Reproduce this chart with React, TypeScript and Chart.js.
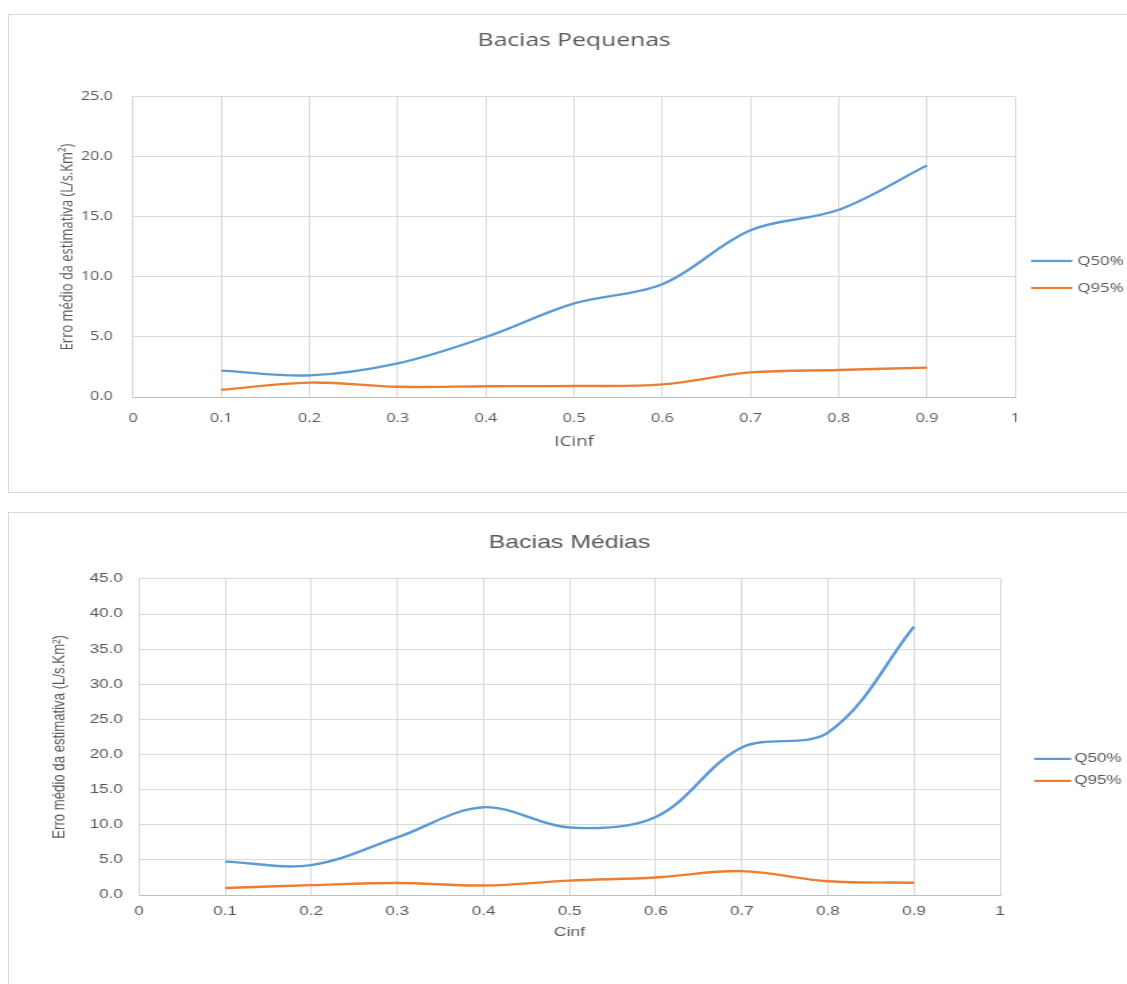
import React, { useEffect, useRef } from 'react';
import { Chart, registerables } from 'chart.js';

Chart.register(...registerables);

// Shared x positions (impermeability index) and tick labels
const xValues = [0.1, 0.2, 0.3, 0.4, 0.5, 0.6, 0.7, 0.8, 0.9];
const xTickLabels = ['0', '0.1', '0.2', '0.3', '0.4', '0.5', '0.6', '0.7', '0.8', '0.9', '1'];

const seriesNames = ['Q50%', 'Q95%'];
const seriesColors = ['#5B9BD5', '#ED7D31'];

// Bacias Pequenas
const pequenasQ50 = [2.2, 1.8, 2.8, 5.0, 7.8, 9.4, 13.9, 15.6, 19.3];
const pequenasQ95 = [0.6, 1.2, 0.85, 0.9, 0.92, 1.05, 2.05, 2.25, 2.45];
const pequenasYTicks = ['0.0', '5.0', '10.0', '15.0', '20.0', '25.0'];

// Bacias Médias
const mediasQ50 = [4.75, 4.25, 8.2, 12.5, 9.6, 11.1, 21.0, 23.1, 38.2];
const mediasQ95 = [1.0, 1.4, 1.7, 1.35, 2.05, 2.5, 3.4, 1.95, 1.75];
const mediasYTicks = ['0.0', '5.0', '10.0', '15.0', '20.0', '25.0', '30.0', '35.0', '40.0', '45.0'];

const yAxisTitle = 'Erro médio da estimativa (L/s.Km²)';
const TEXT = '#595959';
const GRID = '#d9d9d9';

// The drawing surface is rendered narrower and widened with CSS
const STRETCH = 1.35;
const DISPLAY_W = 1118;
const CANVAS_W = Math.round(DISPLAY_W / STRETCH);

const sideLegend = {
  id: 'sideLegend',
  afterDraw(chart: any, _args: any, opts: any) {
    const { ctx, chartArea } = chart;
    ctx.save();
    chart.data.datasets.forEach((ds: any, i: number) => {
      const y = chartArea.top + opts.top + i * opts.gap;
      ctx.strokeStyle = ds.borderColor;
      ctx.lineWidth = 2.2;
      ctx.beginPath();
      ctx.moveTo(chartArea.right + opts.lineStart, y);
      ctx.lineTo(chartArea.right + opts.lineEnd, y);
      ctx.stroke();
      ctx.fillStyle = TEXT;
      ctx.font = `${opts.fontSize}px ${opts.family}`;
      ctx.textBaseline = 'middle';
      ctx.textAlign = 'left';
      ctx.fillText(ds.label, chartArea.right + opts.textStart, y);
    });
    ctx.restore();
  },
};

type PanelSpec = {
  title: string;
  xTitle: string;
  q50: number[];
  q95: number[];
  yTicks: string[];
  yMax: number;
  yStep: number;
  family: string;
  height: number;
  titleSize: number;
  titlePad: { top: number; bottom: number };
  tickSize: number;
  yAxisWidth: number;
  yTickPad: number;
  yTitleSize: number;
  yTitlePad: number;
  xAxisHeight: number;
  xTickPad: number;
  xTitleSize: number;
  xTitlePad: number;
  padRight: number;
  legend: { top: number; gap: number; lineStart: number; lineEnd: number; textStart: number; fontSize: number };
};

function ChartPanel({ spec }: { spec: PanelSpec }) {
  const ref = useRef<HTMLCanvasElement | null>(null);

  useEffect(() => {
    if (!ref.current) return;
    const series = [spec.q50, spec.q95];
    const chart = new Chart(ref.current, {
      type: 'line',
      data: {
        datasets: series.map((vals, s) => ({
          label: seriesNames[s],
          data: xValues.map((x, i) => ({ x, y: vals[i] })),
          borderColor: seriesColors[s],
          backgroundColor: seriesColors[s],
          borderWidth: 2.4,
          pointRadius: 0,
          tension: 0.35,
          fill: false,
        })),
      },
      options: {
        responsive: false,
        animation: false,
        devicePixelRatio: 1,
        layout: { padding: { left: 0, right: spec.padRight, top: 0, bottom: 0 } },
        plugins: {
          legend: { display: false },
          tooltip: { enabled: false },
          title: {
            display: true,
            fullSize: false,
            text: spec.title,
            color: TEXT,
            font: { family: spec.family, size: spec.titleSize, weight: 'normal' },
            padding: spec.titlePad,
          },
          sideLegend: { ...spec.legend, family: spec.family },
        } as any,
        scales: {
          x: {
            type: 'linear',
            min: 0,
            max: 1,
            afterFit: (scale: any) => {
              scale.height = spec.xAxisHeight;
            },
            ticks: {
              stepSize: 0.1,
              autoSkip: false,
              maxRotation: 0,
              padding: spec.xTickPad,
              color: TEXT,
              font: { family: spec.family, size: spec.tickSize },
              callback: (_v: any, i: number) => xTickLabels[i],
            },
            grid: { color: GRID, drawTicks: false, lineWidth: 1 },
            border: { color: '#bfbfbf', width: 1 },
            title: {
              display: true,
              text: spec.xTitle,
              color: TEXT,
              font: { family: spec.family, size: spec.xTitleSize },
              padding: { top: 0, bottom: spec.xTitlePad },
            },
          },
          y: {
            min: 0,
            max: spec.yMax,
            afterFit: (scale: any) => {
              scale.width = spec.yAxisWidth;
            },
            ticks: {
              stepSize: spec.yStep,
              padding: spec.yTickPad,
              color: TEXT,
              font: { family: spec.family, size: spec.tickSize },
              callback: (_v: any, i: number) => spec.yTicks[i],
            },
            grid: { color: GRID, drawTicks: false, lineWidth: 1 },
            border: { color: GRID, width: 1 },
            title: {
              display: true,
              text: yAxisTitle,
              color: TEXT,
              font: { family: spec.family, size: spec.yTitleSize },
              padding: { top: spec.yTitlePad, bottom: 0 },
            },
          },
        },
      },
      plugins: [sideLegend],
    } as any);
    return () => chart.destroy();
  }, [spec]);

  return (
    <canvas
      ref={ref}
      width={CANVAS_W}
      height={spec.height}
      style={{ width: DISPLAY_W + 'px', height: spec.height + 'px', display: 'block' }}
    />
  );
}

const pequenasSpec: PanelSpec = {
  title: 'Bacias Pequenas',
  xTitle: 'ICinf',
  q50: pequenasQ50,
  q95: pequenasQ95,
  yTicks: pequenasYTicks,
  yMax: 25,
  yStep: 5,
  family: '"Open Sans", "Noto Sans", sans-serif',
  height: 476,
  titleSize: 18.3,
  titlePad: { top: 15.3, bottom: 44.7 },
  tickSize: 12,
  yAxisWidth: 91.9,
  yTickPad: 15,
  yTitleSize: 12.9,
  yTitlePad: 35.3,
  xAxisHeight: 94,
  xTickPad: 14.5,
  xTitleSize: 14,
  xTitlePad: 40.8,
  padRight: CANVAS_W - 745.2,
  legend: { top: 164, gap: 27, lineStart: 11.7, lineEnd: 42.2, textStart: 46, fontSize: 12.5 },
};

const mediasSpec: PanelSpec = {
  title: 'Bacias Médias',
  xTitle: 'Cinf',
  q50: mediasQ50,
  q95: mediasQ95,
  yTicks: mediasYTicks,
  yMax: 45,
  yStep: 5,
  family: '"Liberation Sans", Arial, sans-serif',
  height: 463,
  titleSize: 18.4,
  titlePad: { top: 19.2, bottom: 24.6 },
  tickSize: 12.6,
  yAxisWidth: 96.3,
  yTickPad: 12,
  yTitleSize: 13.2,
  yTitlePad: 29,
  xAxisHeight: 81,
  xTickPad: 9.4,
  xTitleSize: 13,
  xTitlePad: 36.2,
  padRight: CANVAS_W - 734,
  legend: { top: 180, gap: 22, lineStart: 25.3, lineEnd: 52.7, textStart: 55, fontSize: 12.6 },
};

const boxStyle: React.CSSProperties = {
  position: 'absolute',
  left: 8,
  width: 1130,
  border: '1px solid #d9d9d9',
  boxSizing: 'border-box',
  background: '#fff',
};

export default function App() {
  return (
    <div style={{ position: 'fixed', left: 0, top: 0, width: 1127, height: 984, overflow: 'hidden', background: '#fff' }}>
      <div style={{ ...boxStyle, top: 14, height: 479 }}>
        <ChartPanel spec={pequenasSpec} />
      </div>
      <div style={{ ...boxStyle, top: 512, height: 500 }}>
        <ChartPanel spec={mediasSpec} />
      </div>
    </div>
  );
}
